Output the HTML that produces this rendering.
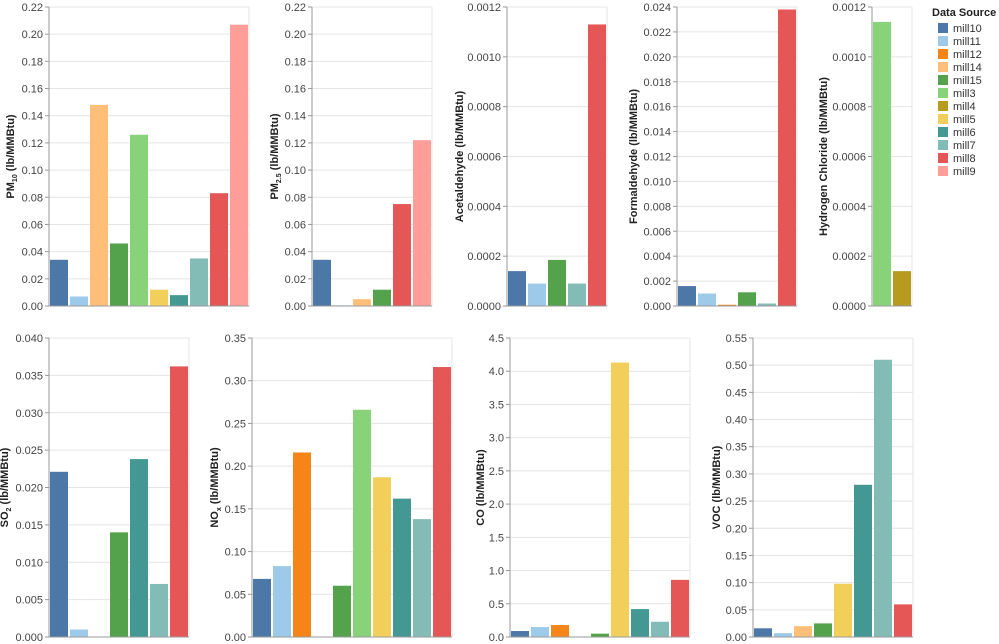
<!DOCTYPE html>
<html><head><meta charset="utf-8"><style>
body{margin:0;background:#fff;}
svg{display:block;font-family:"Liberation Sans",Arial,sans-serif;}
</style></head><body>
<svg id="chart" width="999" height="644" viewBox="0 0 999 644"></svg>
<script>
const mills = ["mill10","mill11","mill12","mill14","mill15","mill3","mill4","mill5","mill6","mill7","mill8","mill9"];
const colors = ["#4c78a8","#9ecae9","#f58518","#ffbf79","#54a24b","#88d27a","#b79a20","#f2cf5b","#439894","#83bcb6","#e45756","#ff9d98"];

const pm10Cats = ["mill10","mill11","mill14","mill15","mill3","mill5","mill6","mill7","mill8","mill9"];
const pm10Vals = [0.034,0.007,0.148,0.046,0.126,0.012,0.008,0.035,0.083,0.207];
const pm25Cats = ["mill10","mill11","mill14","mill15","mill8","mill9"];
const pm25Vals = [0.034,0.0005,0.005,0.012,0.075,0.122];
const acetCats = ["mill10","mill11","mill15","mill7","mill8"];
const acetVals = [0.00014,0.00009,0.000185,0.00009,0.00113];
const formCats = ["mill10","mill11","mill12","mill15","mill7","mill8"];
const formVals = [0.0016,0.001,0.0001,0.0011,0.0002,0.0238];
const hclCats = ["mill3","mill4"];
const hclVals = [0.00114,0.00014];
const so2Cats = ["mill10","mill11","mill12","mill15","mill6","mill7","mill8"];
const so2Vals = [0.0221,0.001,0,0.014,0.0238,0.0071,0.0362];
const noxCats = ["mill10","mill11","mill12","mill14","mill15","mill3","mill5","mill6","mill7","mill8"];
const noxVals = [0.068,0.083,0.216,0,0.06,0.266,0.187,0.162,0.138,0.316];
const coCats = ["mill10","mill11","mill12","mill14","mill15","mill5","mill6","mill7","mill8"];
const coVals = [0.09,0.15,0.18,0.005,0.05,4.13,0.42,0.23,0.86];
const vocCats = ["mill10","mill11","mill14","mill15","mill5","mill6","mill7","mill8"];
const vocVals = [0.016,0.007,0.02,0.025,0.098,0.28,0.51,0.06];

const pm10Ticks = ["0.00","0.02","0.04","0.06","0.08","0.10","0.12","0.14","0.16","0.18","0.20","0.22"];
const acetTicks = ["0.0000","0.0002","0.0004","0.0006","0.0008","0.0010","0.0012"];
const formTicks = ["0.000","0.002","0.004","0.006","0.008","0.010","0.012","0.014","0.016","0.018","0.020","0.022","0.024"];
const so2Ticks = ["0.000","0.005","0.010","0.015","0.020","0.025","0.030","0.035","0.040"];
const noxTicks = ["0.00","0.05","0.10","0.15","0.20","0.25","0.30","0.35"];
const coTicks = ["0.0","0.5","1.0","1.5","2.0","2.5","3.0","3.5","4.0","4.5"];
const vocTicks = ["0.00","0.05","0.10","0.15","0.20","0.25","0.30","0.35","0.40","0.45","0.50","0.55"];

const NS="http://www.w3.org/2000/svg";
const svg=document.getElementById('chart');
function mk(tag,attrs,parent){const e=document.createElementNS(NS,tag);for(const k in attrs)e.setAttribute(k,attrs[k]);(parent||svg).appendChild(e);return e;}

function panel(key,x0,top,bottom,cats,vals,ticks,titleMain,titleSub,titleX){
  const g=mk('g',{});
  
  
  const slot=20, w=cats.length*slot;
  const max=parseFloat(ticks[ticks.length-1]);
  const y=v=>bottom-(v/max)*(bottom-top);
  ticks.forEach(t=>{
    const v=parseFloat(t), yy=y(v);
    const gl=mk('line',{x1:x0,x2:x0+w,y1:yy,y2:yy,stroke:'#e4e4e4','stroke-width':1},g);
    
    
    mk('line',{x1:x0-4,x2:x0,y1:yy,y2:yy,stroke:'#999','stroke-width':1},g);
    const tx=mk('text',{x:x0-6,y:yy+4,'text-anchor':'end','font-size':11,fill:'#444'},g);
    tx.textContent=t;
    
    
  });
  mk('line',{x1:x0+w,x2:x0+w,y1:top,y2:bottom,stroke:'#e4e4e4'},g);
  cats.forEach((c,i)=>{
    const v=vals[i]; const yy=y(v);
    const r=mk('rect',{x:x0+i*slot+1,y:yy,width:slot-2,height:bottom-yy,fill:colors[mills.indexOf(c)]},g);
    
    
  });
  mk('line',{x1:x0,x2:x0,y1:top,y2:bottom,stroke:'#999'},g);
  mk('line',{x1:x0,x2:x0+w,y1:bottom,y2:bottom,stroke:'#999'},g);
  const cy=(top+bottom)/2;
  const tt=mk('text',{x:titleX,y:cy,transform:`rotate(-90 ${titleX} ${cy})`,'text-anchor':'middle','font-size':11,'font-weight':'bold',fill:'#222'},g);
  
  
  const a=document.createElementNS(NS,'tspan');a.textContent=titleMain;tt.appendChild(a);
  if(titleSub){
    const s=document.createElementNS(NS,'tspan');s.setAttribute('font-size',7);s.setAttribute('dy',3);s.textContent=titleSub;tt.appendChild(s);
    const r=document.createElementNS(NS,'tspan');r.setAttribute('dy',-3);r.textContent=' (lb/MMBtu)';tt.appendChild(r);
  }
}
panel('pm10',49,7,306,pm10Cats,pm10Vals,pm10Ticks,'PM','10',14);
panel('pm25',312,7,306,pm25Cats,pm25Vals,pm10Ticks,'PM','2.5',278);
panel('acetaldehyde',507,7,306,acetCats,acetVals,acetTicks,'Acetaldehyde (lb/MMBtu)',null,463);
panel('formaldehyde',677,7,306,formCats,formVals,formTicks,'Formaldehyde (lb/MMBtu)',null,637);
panel('hcl',872,7,306,hclCats,hclVals,acetTicks,'Hydrogen Chloride (lb/MMBtu)',null,827);
panel('so2',49,338,637,so2Cats,so2Vals,so2Ticks,'SO','2',8);
panel('nox',252,338,637,noxCats,noxVals,noxTicks,'NO','x',218);
panel('co',510,338,637,coCats,coVals,coTicks,'CO (lb/MMBtu)',null,484);
panel('voc',753,338,637,vocCats,vocVals,vocTicks,'VOC (lb/MMBtu)',null,720);

const lg=mk('g',{});


const lt=mk('text',{x:932,y:16,'font-size':11,'font-weight':'bold',fill:'#222'},lg);
lt.textContent='Data Source';


mills.forEach((m,i)=>{
  const yy=28+i*13;
  const e=mk('g',{},lg);
  
  
  mk('rect',{x:938,y:yy-5,width:10,height:10,fill:colors[i]},e);
  const t=mk('text',{x:953,y:yy+4,'font-size':11,fill:'#333'},e);
  t.textContent=m;
});
</script>
</body></html>
